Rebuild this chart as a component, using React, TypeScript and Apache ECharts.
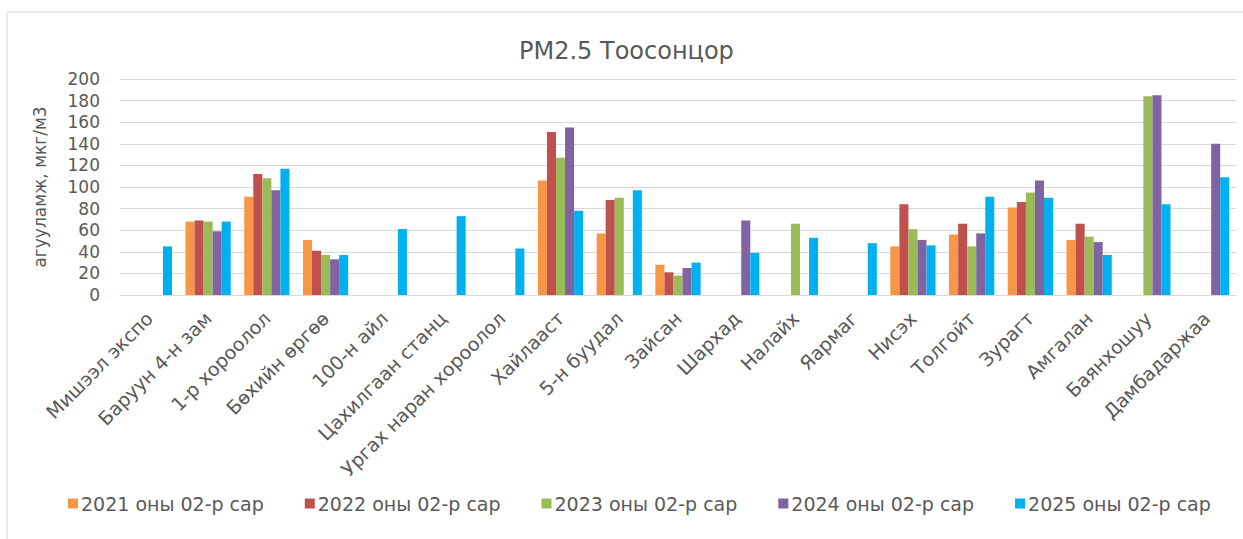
import React, { useEffect, useRef } from "react";
import * as echarts from "echarts";

const categories = [
  "Мишээл экспо",
  "Баруун 4-н зам",
  "1-р хороолол",
  "Бөхийн өргөө",
  "100-н айл",
  "Цахилгаан станц",
  "Ургах наран хороолол",
  "Хайлааст",
  "5-н буудал",
  "Зайсан",
  "Шархад",
  "Налайх",
  "Яармаг",
  "Нисэх",
  "Толгойт",
  "Зурагт",
  "Амгалан",
  "Баянхошуу",
  "Дамбадаржаа",
];

const seriesNames = [
  "2021 оны 02-р сар",
  "2022 оны 02-р сар",
  "2023 оны 02-р сар",
  "2024 оны 02-р сар",
  "2025 оны 02-р сар",
];

const v2021 = [null, 68, 91, 51, null, null, null, 106, 57, 28, null, null, null, 45, 56, 81, 51, null, null];
const v2022 = [null, 69, 112, 41, null, null, null, 151, 88, 21, null, null, null, 84, 66, 86, 66, null, null];
const v2023 = [null, 68, 108, 37, null, null, null, 127, 90, 18, null, 66, null, 61, 45, 95, 54, 184, null];
const v2024 = [null, 59, 97, 33, null, null, null, 155, null, 25, 69, null, null, 51, 57, 106, 49, 185, 140];
const v2025 = [45, 68, 117, 37, 61, 73, 43, 78, 97, 30, 39, 53, 48, 46, 91, 90, 37, 84, 109];

const colors = ["#F79646", "#C0504D", "#9BBB59", "#8064A2", "#00B0F0"];
const yTicks = { min: 0, max: 200, interval: 20 };

const FONT = "DejaVu Sans";
const TEXT = "#595959";

export default function App() {
  const ref = useRef<HTMLDivElement>(null);
  useEffect(() => {
    if (!ref.current) return;
    const chart = echarts.init(ref.current, undefined, { renderer: "svg" });
    const data = [v2021, v2022, v2023, v2024, v2025];
    chart.setOption({
      animation: false,
      color: colors,
      textStyle: { fontFamily: FONT },
      title: {
        text: "PM2.5 Тоосонцор",
        left: 514,
        top: 34,
        textStyle: { fontFamily: FONT, fontSize: 24, fontWeight: "normal", color: TEXT },
      },
      graphic: [
        {
          type: "rect",
          shape: { x: 7, y: 12, width: 1260, height: 560 },
          style: { fill: "none", stroke: "#d9d9d9", lineWidth: 1 },
          silent: true,
        },
      ],
      legend: {
        bottom: 21,
        left: 63,
        itemWidth: 10,
        itemHeight: 10,
        itemGap: 41,
        icon: "rect",
        textStyle: { fontFamily: FONT, fontSize: 19, color: TEXT, padding: [0, 0, 0, -2] },
        data: seriesNames,
      },
      grid: { left: 120, right: 7, top: 79, bottom: 244, containLabel: false },
      xAxis: {
        type: "category",
        data: categories,
        axisLine: { show: true, lineStyle: { color: "#d9d9d9", width: 1 } },
        axisTick: { show: false },
        axisLabel: {
          rotate: 45,
          interval: 0,
          fontFamily: FONT,
          fontSize: 19,
          color: TEXT,
          margin: 20,
        },
      },
      yAxis: {
        type: "value",
        min: yTicks.min,
        max: yTicks.max,
        interval: yTicks.interval,
        name: "агууламж, мкг/м3",
        nameLocation: "middle",
        nameGap: 72,
        nameTextStyle: { fontFamily: FONT, fontSize: 17, color: TEXT },
        axisLine: { show: false },
        axisTick: { show: false },
        axisLabel: { fontFamily: FONT, fontSize: 17, color: TEXT, margin: 20 },
        splitLine: { lineStyle: { color: "#d9d9d9", width: 1 } },
      },
      series: seriesNames.map((name, i) => ({
        name,
        type: "bar",
        data: data[i],
        barGap: "0%",
        barCategoryGap: "23%",
        itemStyle: { color: colors[i] },
      })),
    });
    return () => chart.dispose();
  }, []);
  return (
    <div
      ref={ref}
      style={{ position: "fixed", left: 0, top: 0, width: 1243, height: 539, background: "#fff" }}
    />
  );
}
